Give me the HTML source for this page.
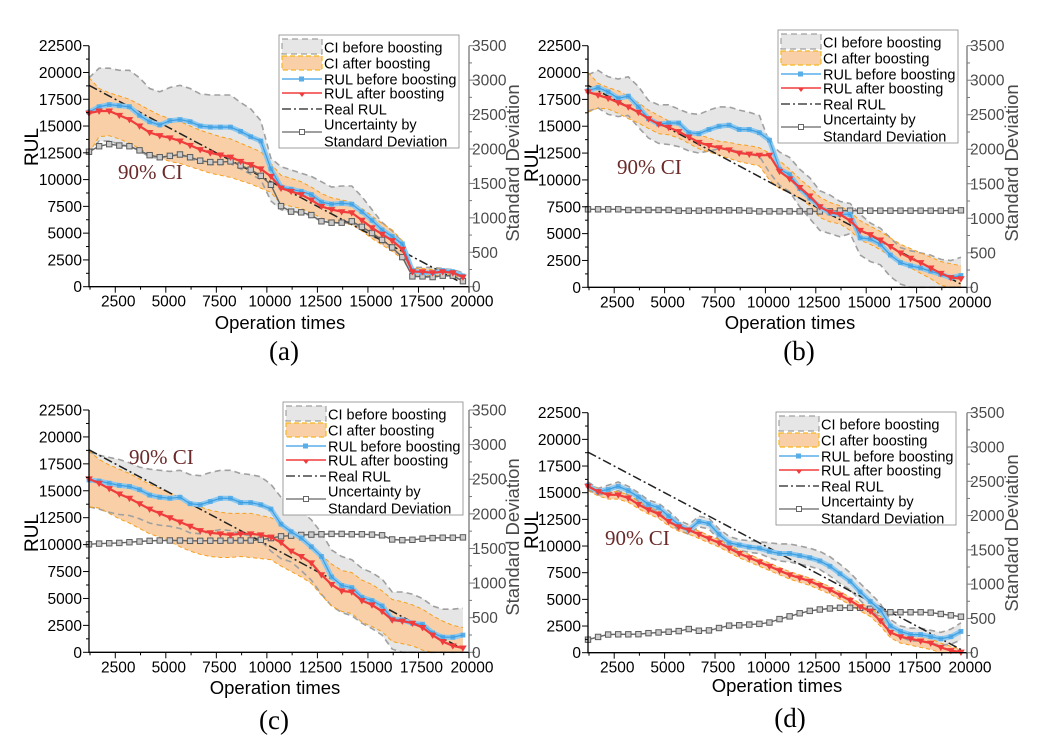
<!DOCTYPE html>
<html><head><meta charset="utf-8"><style>
body{margin:0;background:#fff;}
svg{display:block;font-family:"Liberation Sans",Arial,sans-serif;}
</style></head><body>
<svg id="fig" width="1043" height="750" viewBox="0 0 1043 750" xmlns="http://www.w3.org/2000/svg"></svg>
<script>
// ---- shared categories ----
const xs = [1200,1700,2200,2700,3200,3700,4200,4700,5200,5700,6200,6700,7200,7700,8200,8700,9200,9700,10200,10700,11200,11700,12200,12700,13200,13700,14200,14700,15200,15700,16200,16700,17200,17700,18200,18700,19200,19700];
const xTicks = [2500,5000,7500,10000,12500,15000,17500,20000];
const yTicks = [0,2500,5000,7500,10000,12500,15000,17500,20000,22500];
const sdTicks = [0,500,1000,1500,2000,2500,3000,3500];
const realX = [1200,19700];
const realY = [18800,300];
const legendLabels = ["CI before boosting","CI after boosting","RUL before boosting","RUL after boosting","Real RUL","Uncertainty by","Standard Deviation"];

// ---- panel (a) ----
const blueA = [16300,16800,17000,16900,16800,16000,15400,15100,15500,15600,15400,15000,14900,14900,14900,14500,14000,13600,11000,9300,9100,8900,8600,7900,7700,7800,7700,7000,6200,5300,4700,4000,1500,1300,1300,1500,1400,1000];
const redA = [16200,16400,16400,16000,15600,15000,14400,14100,13900,13600,13200,12800,12500,12300,12100,11700,11400,11000,10300,9200,8900,8600,8100,7500,7200,7000,6900,6200,5500,4900,4300,3500,1400,1400,1300,1400,1300,900];
const ciBeforeUpA = [19500,20400,20400,20200,20200,19500,18500,18200,18600,18800,18500,18000,17900,17900,17900,17200,16600,15500,12000,11200,10900,10600,10300,9800,9300,9400,9400,8400,7200,6000,5200,4200,1800,1800,1800,1700,1600,1300];
const ciBeforeLoA = [12500,13600,13600,13300,13100,12700,12100,12000,12200,12300,12000,11600,11400,11400,11500,11000,10500,10000,8000,7200,6900,6900,6600,6100,6000,5900,6000,5400,4800,4100,3500,2800,1000,900,900,1000,1000,600];
const ciAfterUpA = [19500,18500,18100,17800,17500,17000,16500,16000,15700,15400,15000,14600,14300,14000,13800,13400,13000,12600,11500,10400,10100,9800,9300,8700,8300,8100,7900,7300,6600,5900,5300,4300,1700,1700,1600,1700,1500,1100];
const ciAfterLoA = [12500,14000,14100,13800,13400,12900,12400,12000,11700,11500,11200,10900,10600,10400,10200,9900,9600,9200,8800,7700,7500,7300,6900,6400,6100,5900,5800,5200,4500,3900,3300,2600,1100,1100,1000,1100,1100,700];
const sdA = [1960,2040,2070,2050,2040,1980,1910,1880,1900,1920,1880,1830,1810,1810,1820,1760,1700,1610,1480,1170,1090,1080,1040,950,930,930,950,870,780,680,570,430,150,150,140,160,160,80];

// ---- panel (b) ----
const blueB = [18300,18600,18200,17600,17800,16800,15700,15200,15300,15300,14400,14300,14700,15000,15100,14700,14700,14400,13700,11000,10500,9200,8300,7500,6900,6800,6800,4600,4500,4000,3000,2300,2000,1800,1500,1200,900,1100];
const redB = [18200,17900,17600,17200,16800,16300,15700,15200,14900,14500,14000,13500,13200,13000,12800,12500,12400,12300,12300,10800,10100,9300,8500,7500,7000,6800,6200,5300,4900,4400,3800,3200,2700,2300,1800,1300,900,800];
const ciBeforeUpB = [19800,20200,19600,19400,19600,18700,17400,17000,17000,16600,16200,16100,16500,16800,16800,16500,16300,16000,13500,12600,12100,11000,10200,9000,8600,8000,7800,6800,6000,5500,4600,3700,3400,3200,3000,2600,2500,2800];
const ciBeforeLoB = [16400,16700,16100,15900,16000,14900,13900,13400,13300,13100,12700,12500,12700,12900,12900,12600,12400,12200,10700,9500,8900,7500,6400,5300,5000,4700,5000,3000,2400,2100,1000,300,0,0,0,0,0,0];
const ciAfterUpB = [20000,19000,18600,18300,17800,17200,16500,16000,15500,15100,14600,14200,13900,13600,13500,13300,13200,13000,12500,11800,11000,10100,9300,8400,7900,7600,7000,6200,5700,5200,4600,4000,3600,3200,2800,2400,2200,2000];
const ciAfterLoB = [16300,16700,16600,16200,15700,15300,14800,14300,14200,13900,13400,12900,12600,12300,12000,11700,11500,11300,10000,9200,8800,8300,7600,6500,6100,5900,5300,4400,4000,3500,2900,2400,1800,1300,800,200,0,0];
const sdB = [1130,1130,1130,1130,1120,1120,1120,1120,1120,1110,1110,1110,1115,1115,1115,1115,1110,1100,1100,1100,1100,1100,1100,1100,1100,1110,1110,1110,1110,1110,1110,1110,1110,1110,1110,1110,1110,1115];

// ---- panel (c) ----
const blueC = [16000,15900,15700,15500,15400,15100,14600,14400,14300,14400,13800,13700,14000,14300,14300,13900,13900,13700,13300,11900,11200,10600,9800,8900,7000,6200,6000,5100,4800,4300,3100,3000,2700,2600,1800,1400,1400,1600];
const redC = [16100,15700,15200,14700,14300,13800,13300,12900,12500,12100,11700,11300,11100,11000,10900,11000,11000,10900,10700,10200,9400,8900,8300,7200,6300,5700,5600,4800,4400,3800,3000,2900,2700,2300,1600,1000,600,400];
const ciBeforeUpC = [18600,18300,18100,17900,17600,17200,17000,16900,16800,16900,16500,16400,16700,16900,16900,16600,16500,16300,15600,14400,13700,13100,12300,11100,9500,8900,8600,7800,7400,6800,5600,5600,5400,5000,4300,4000,4000,4100];
const ciBeforeLoC = [13500,13300,13000,12800,12700,12400,12000,11800,11700,11500,11100,11000,11200,11400,11300,11000,10800,10400,9400,8700,8400,7600,6700,5400,4300,3700,3400,2700,2200,1600,300,0,0,0,0,0,0,0];
const ciAfterUpC = [18700,17900,17400,17000,16600,16100,15600,15200,14800,14400,13900,13500,13200,13000,12900,12900,12900,12700,12500,12000,11200,10700,10000,9000,8200,7600,7400,6700,6300,5700,4900,4700,4400,4000,3400,2900,2500,2300];
const ciAfterLoC = [13500,13400,12900,12400,12000,11500,11000,10700,10300,9800,9400,9100,8900,8800,8800,8900,8800,8700,8600,8000,7500,7000,6400,5300,4300,3800,3600,2800,2400,1900,1000,800,600,200,0,0,0,0];
const sdC = [1560,1570,1575,1580,1590,1600,1610,1615,1615,1615,1610,1610,1612,1612,1615,1615,1615,1625,1650,1675,1685,1695,1700,1705,1710,1710,1705,1705,1700,1690,1630,1620,1625,1640,1650,1655,1655,1660];

// ---- panel (d) ----
const blueD = [15700,15100,15300,15600,15200,14600,13900,13600,12800,12000,11500,12300,12100,11100,10300,10100,9900,9800,9500,9300,9300,9100,8900,8600,8100,7400,6700,5700,4800,4000,2500,2000,1700,1700,1500,1300,1500,2000];
const redD = [15600,15100,14800,14800,14500,13900,13400,13000,12300,11800,11500,11100,10700,10300,9800,9300,8900,8500,8100,7700,7300,7000,6700,6300,5900,5400,4900,4300,3900,3000,1900,1500,1300,1100,900,500,200,50];
const ciBeforeUpD = [16000,15400,15700,16000,15600,15000,14300,14000,13300,12400,12000,12800,12600,11600,10900,10600,10500,10400,10300,10200,10200,10000,9800,9500,9000,8300,7500,6500,5600,4600,3100,2500,2300,2300,2100,1900,2200,2800];
const ciBeforeLoD = [15300,14800,14900,15200,14800,14200,13500,13200,12300,11500,11100,11800,11600,10600,9800,9600,9400,9300,8900,8600,8500,8300,8100,7800,7200,6500,5900,4900,4000,3300,1900,1500,1100,1100,900,700,800,1200];
const ciAfterUpD = [15900,15400,15100,15100,14800,14200,13700,13300,12600,12100,11800,11400,11000,10600,10100,9600,9200,8800,8400,8000,7600,7300,7000,6600,6200,5700,5200,4600,4300,3400,2300,1900,1700,1500,1300,900,600,300];
const ciAfterLoD = [15200,14700,14400,14400,14100,13500,13000,12600,11900,11400,11100,10700,10300,9900,9400,8900,8500,8100,7700,7300,6900,6600,6300,5900,5500,5000,4500,3900,3400,2500,1400,900,700,500,300,0,0,0];
const sdD = [190,230,265,268,268,270,285,295,305,315,345,320,325,360,395,400,410,420,440,490,530,575,610,630,645,655,655,655,640,620,590,590,590,590,585,565,545,525];

const panels = [
 {id:'a',L:89,R:469,T:45.7,B:286.7,blue:blueA,red:redA,cbu:ciBeforeUpA,cbl:ciBeforeLoA,cau:ciAfterUpA,cal:ciAfterLoA,sd:sdA,
  leg:[279,35],ci:[118,179],rul:[31,147],sdl:[512,163],ot:[280,329],sub:[284,360]},
 {id:'b',L:588,R:967,T:45.7,B:287.3,blue:blueB,red:redB,cbu:ciBeforeUpB,cbl:ciBeforeLoB,cau:ciAfterUpB,cal:ciAfterLoB,sd:sdB,
  leg:[778,30],ci:[617,174],rul:[531,163],sdl:[1011,163],ot:[790,329],sub:[799,360]},
 {id:'c',L:89,R:469,T:410,B:652.3,blue:blueC,red:redC,cbu:ciBeforeUpC,cbl:ciBeforeLoC,cau:ciAfterUpC,cal:ciAfterLoC,sd:sdC,
  leg:[283,402],ci:[129,464],rul:[31,533],sdl:[512,537],ot:[275,694],sub:[274,729]},
 {id:'d',L:588,R:967,T:412.7,B:652.7,blue:blueD,red:redD,cbu:ciBeforeUpD,cbl:ciBeforeLoD,cau:ciAfterUpD,cal:ciAfterLoD,sd:sdD,
  leg:[776,412],ci:[605,545],rul:[531,530],sdl:[1011,533],ot:[777,692],sub:[790,727]}
];

const NS='http://www.w3.org/2000/svg';
const svg=document.getElementById('fig');
function mk(tag,attrs,parent){const e=document.createElementNS(NS,tag);for(const k in attrs)e.setAttribute(k,attrs[k]);(parent||svg).appendChild(e);return e;}

panels.forEach(p=>{
  const g=mk('g',{});
  
  
  const X0=1200,X1=20000;
  const sx=v=>p.L+(v-X0)/(X1-X0)*(p.R-p.L);
  const sy=v=>p.B-v/22500*(p.B-p.T);
  const ss=v=>p.B-v/3500*(p.B-p.T);
  const pts=(arr,f)=>arr.map((v,i)=>sx(xs[i]).toFixed(1)+','+f(v).toFixed(1));
  const band=(up,lo)=>'M'+pts(up,sy).join('L')+'L'+pts(lo,sy).reverse().join('L')+'Z';
  const b1=mk('path',{d:band(p.cbu,p.cbl),fill:'#e6e6e6',stroke:'none'},g);
  
  
  const b2=mk('path',{d:band(p.cau,p.cal),fill:'#f8cfa6',stroke:'none'},g);
  
  
  [[p.cbu,'#a0a0a0','6,4',1.6],[p.cbl,'#a0a0a0','6,4',1.6],[p.cau,'#f5a020','4,3',1],[p.cal,'#f5a020','4,3',1]].forEach(([a,c,da,w])=>{
    const l=mk('polyline',{points:pts(a,sy).join(' '),fill:'none',stroke:c,'stroke-width':w,'stroke-dasharray':da},g);
    
    
  });
  const rl=mk('line',{x1:sx(realX[0]),y1:sy(realY[0]),x2:sx(realX[1]),y2:sy(realY[1]),stroke:'#222','stroke-width':1.5,'stroke-dasharray':'9,3,2,3'},g);
  
  
  const sl=mk('polyline',{points:pts(p.sd,ss).join(' '),fill:'none',stroke:'#666','stroke-width':1.4},g);
  
  
  p.sd.forEach((v,i)=>{const m=mk('rect',{x:sx(xs[i])-2.7,y:ss(v)-2.7,width:5.4,height:5.4,fill:'#ccc',stroke:'#5a5a5a','stroke-width':1},g);
    
    });
  const bl=mk('polyline',{points:pts(p.blue,sy).join(' '),fill:'none',stroke:'#8cc8f0','stroke-width':5},g);
  
  
  p.blue.forEach((v,i)=>{const m=mk('rect',{x:sx(xs[i])-2.4,y:sy(v)-2.4,width:4.8,height:4.8,fill:'#5aaee8'},g);
    
    });
  mk('polyline',{points:pts(p.blue,sy).join(' '),fill:'none',stroke:'#3d9ee0','stroke-width':1.2},g);
  const rd=mk('polyline',{points:pts(p.red,sy).join(' '),fill:'none',stroke:'#f03c3c','stroke-width':2.2},g);
  
  
  p.red.forEach((v,i)=>{const x=sx(xs[i]),y=sy(v);const m=mk('path',{d:`M${x-3.8},${y-2.5}L${x+3.8},${y-2.5}L${x},${y+3.8}Z`,fill:'#f03c3c'},g);
    
    });
  const ax=mk('path',{d:`M${p.L},${p.T}V${p.B}H${p.R}`,fill:'none',stroke:'#000','stroke-width':1.3},g);
  
  
  const ra=mk('line',{x1:p.R,y1:p.T,x2:p.R,y2:p.B,stroke:'#777','stroke-width':1.3},g);
  
  
  yTicks.forEach((v,i)=>{
    mk('line',{x1:p.L-6,y1:sy(v),x2:p.L,y2:sy(v),stroke:'#000'},g);
    if(i<yTicks.length-1) mk('line',{x1:p.L-3,y1:sy(v+1250),x2:p.L,y2:sy(v+1250),stroke:'#000'},g);
    const t=mk('text',{x:p.L-7,y:sy(v)+5.5,'text-anchor':'end','font-size':15.5},g);t.textContent=v;
    
    
  });
  sdTicks.forEach((v,i)=>{
    mk('line',{x1:p.R,y1:ss(v),x2:p.R+6,y2:ss(v),stroke:'#777'},g);
    if(i<sdTicks.length-1) mk('line',{x1:p.R,y1:ss(v+250),x2:p.R+3,y2:ss(v+250),stroke:'#777'},g);
    const t=mk('text',{x:p.R+3,y:ss(v)+5.5,'font-size':15.5,fill:'#4a4a4a'},g);t.textContent=v;
    
    
  });
  xTicks.forEach(v=>{
    mk('line',{x1:sx(v),y1:p.B,x2:sx(v),y2:p.B+6,stroke:'#000'},g);
    mk('line',{x1:sx(v-1250),y1:p.B,x2:sx(v-1250),y2:p.B+3,stroke:'#000'},g);
    const t=mk('text',{x:sx(v)+3,y:p.B+20,'text-anchor':'middle','font-size':15.5},g);t.textContent=v;
    
    
  });
  let t=mk('text',{x:p.ot[0],y:p.ot[1],'text-anchor':'middle','font-size':18.5},g);t.textContent='Operation times';
  
  
  t=mk('text',{x:0,y:0,'text-anchor':'middle','font-size':19,transform:`translate(${p.rul[0]+7},${p.rul[1]}) rotate(-90)`},g);t.textContent='RUL';
  
  
  t=mk('text',{x:0,y:0,'text-anchor':'middle','font-size':18.5,fill:'#4a4a4a',transform:`translate(${p.sdl[0]+7},${p.sdl[1]}) rotate(-90)`},g);t.textContent='Standard Deviation';
  
  
  t=mk('text',{x:p.sub[0],y:p.sub[1],'text-anchor':'middle','font-size':27,'font-family':'"Liberation Serif",serif'},g);t.textContent='('+p.id+')';
  
  
  t=mk('text',{x:p.ci[0],y:p.ci[1],'font-size':21,fill:'#6b2a2a','font-family':'"Liberation Serif",serif'},g);t.textContent='90% CI';
  
  
  const lx=p.leg[0],ly=p.leg[1];
  const lg=mk('g',{},g);
  
  
  mk('rect',{x:lx,y:ly,width:180,height:113,fill:'#fff',stroke:'#888','stroke-width':0.8},lg);
  mk('rect',{x:lx+3,y:ly+4,width:40,height:15,fill:'#e6e6e6',stroke:'#a0a0a0','stroke-dasharray':'6,4','stroke-width':1.2},lg);
  mk('rect',{x:lx+3,y:ly+21,width:40,height:14,fill:'#f8cfa6',stroke:'#f5b820','stroke-dasharray':'5,3','stroke-width':1.2},lg);
  mk('line',{x1:lx+3,y1:ly+44,x2:lx+43,y2:ly+44,stroke:'#5aaee8','stroke-width':1.5},lg);
  mk('rect',{x:lx+20,y:ly+41.5,width:5,height:5,fill:'#5aaee8'},lg);
  mk('line',{x1:lx+3,y1:ly+58,x2:lx+43,y2:ly+58,stroke:'#f03c3c','stroke-width':1.5},lg);
  mk('path',{d:`M${lx+20},${ly+58}h6l-3,4z`,fill:'#f03c3c'},lg);
  mk('line',{x1:lx+3,y1:ly+74,x2:lx+43,y2:ly+74,stroke:'#222','stroke-width':1.3,'stroke-dasharray':'9,3,2,3'},lg);
  mk('line',{x1:lx+3,y1:ly+97,x2:lx+43,y2:ly+97,stroke:'#666','stroke-width':1.2},lg);
  mk('rect',{x:lx+20.5,y:ly+94.5,width:5,height:5,fill:'#fff',stroke:'#666'},lg);
  const ys=[12,28,44,58,74,89,106];
  legendLabels.forEach((s,i)=>{const tt=mk('text',{x:lx+45,y:ly+ys[i]+5.5,'font-size':14.5},lg);tt.textContent=s;
    
    });
});
</script>
</body></html>
